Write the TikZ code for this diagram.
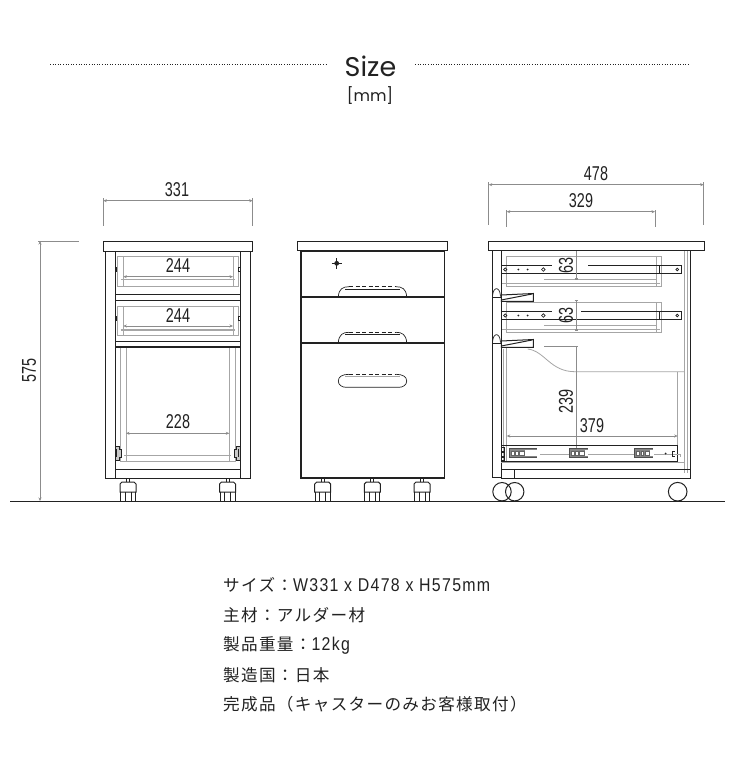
\documentclass[tikz,border=0pt]{standalone}
\usepackage{fontspec}
\usetikzlibrary{arrows.meta}
\setmainfont{Liberation Sans}
\newfontfamily\numfont[FakeStretch=0.72]{Liberation Sans}
\newfontfamily\latfont[FakeStretch=0.86,LetterSpace=7]{Liberation Sans}
\newfontfamily\cjkfont[LetterSpace=8]{Noto Sans CJK JP}
\newfontfamily\titlefont{Poppins}
\definecolor{ink}{HTML}{222222}
\definecolor{gr}{HTML}{A6A6A6}
\definecolor{dimc}{HTML}{8C8C8C}
\tikzset{
  x=1pt,y=-1pt,
  blk/.style={draw=ink,line width=1pt},
  thick blk/.style={draw=ink,line width=1.6pt},
  fine/.style={draw=ink,line width=0.7pt},
  grl/.style={draw=gr,line width=0.8pt},
  grthick/.style={draw=gr,line width=1.5pt},
  dimline/.style={draw=dimc,line width=0.8pt,{Stealth[length=3.5pt,width=3pt]}-{Stealth[length=3.5pt,width=3pt]}},
  extline/.style={draw=dimc,line width=0.8pt},
  num/.style={font=\numfont\fontsize{20}{20}\selectfont,text=ink,inner sep=0pt},
  spec/.style={anchor=base west,inner sep=0pt,text=ink},
  dots/.style={draw=ink,line width=0.9pt,dash pattern=on 0.9pt off 1.7pt},
}
\newcommand{\caster}[1]{%
  \draw[fine] (#1-1.5,478) -- (#1-1.5,482) (#1+1.5,478) -- (#1+1.5,482);
  \draw[blk,fill=white] (#1-8,484) -- (#1-6,482) -- (#1+6,482) -- (#1+8,484) -- (#1+8,492) -- (#1-8,492) -- cycle;
  \draw[blk] (#1-7.5,492) -- (#1-7.5,501) (#1-3,492) -- (#1-3,501) (#1+3,492) -- (#1+3,501) (#1+7.5,492) -- (#1+7.5,501);
}
\newcommand{\drawerhandle}[2]{% top y, bottom y
  \draw[fine] (338.3,#2) .. controls (339,#1+2) and (343,#1) .. (349,#1);
  \draw[fine] (406.7,#2) .. controls (406,#1+2) and (402,#1) .. (396,#1);
  \draw[fine,dash pattern=on 4pt off 2.5pt] (349,#1) -- (396,#1);
  \draw[fine] (345,#1+2.5) -- (400,#1+2.5);
}
\newcommand{\siderail}[5]{% y offset down, top line break start, break end, dim top, dim bottom
  \begin{scope}[yshift=-#1pt]
  \draw[grl] (506.7,256.3) rectangle (661.3,286.3);
  \draw[grl] (656,256.3) -- (656,286.3) (501.5,283) -- (660,283) (544,279) -- (656,279);
  \draw[blk] (501.7,265.3) -- (#2,265.3) (#3,265.3) -- (659,265.3);
  \draw[thick blk] (501.7,273.3) -- (659,273.3);
  \draw[fine] (659,265.3) -- (681.7,265.3) -- (681.7,273.3) -- (659,273.3) -- cycle;
  \draw[fine] (505.3,269.5) circle (1.6) (543.3,269.5) circle (1.8) (677.3,269.5) circle (1.4);
  \fill[ink] (518.3,269.5) circle (1) (527.7,269.5) circle (1);
  \draw[fine] (501.7,265.3) -- (501.7,273.3);
  \draw[extline] (576,#4) -- (576,#5);
  \draw[extline,line width=1.2pt] (574.5,#4) -- (577.5,#4) (574.5,#5) -- (577.5,#5);
  \end{scope}
}
\newcommand{\bracket}[1]{%
  \begin{scope}[yshift=-#1pt]
  \draw[blk,fill=white] (501.3,295) -- (533.3,293.5) -- (533.3,301.3) -- (501.3,301.3) -- cycle;
  \draw[blk] (501.3,300) -- (532,294);
  \draw[fine] (492.5,296.5) .. controls (493,286) and (500,286) .. (500.5,296.5);
  \draw[thick blk] (492,297.5) -- (501.3,297.5);
  \end{scope}
}
\newcommand{\slidepart}[2]{%
  \fill[gr!80!black] (#1,448.8) rectangle (#2,457.7);
  \fill[white] (#1+16,450.3) rectangle (#2+0.5,456.2);
  \draw[fine,draw=ink!80] (#1,448.8) -- (#2,448.8) (#1,457.7) -- (#2,457.7) (#1,448.8) -- (#1,457.7);
  \draw[fine,draw=ink!70,line width=0.5pt,fill=white] (#1+2,451.5) rectangle (#1+5,455);
  \draw[fine,draw=ink!70,line width=0.5pt,fill=white] (#1+6.5,451.5) rectangle (#1+9,455);
  \draw[fine,draw=ink!70,line width=0.5pt,fill=white] (#1+10.5,451.5) rectangle (#1+15,455);
}
\begin{document}
\begin{tikzpicture}
\useasboundingbox[fill=white] (0,0) rectangle (740,774);

% title
\node[inner sep=0pt,font=\titlefont\fontsize{27}{27}\selectfont,text=ink] (title) at (370.5,66) {Size};
\node[inner sep=0pt,font=\titlefont\fontsize{16}{16}\selectfont,text=ink] (unit) at (370,96) {[mm]};
\draw[dots] (50,64) -- (328,64);
\draw[dots] (415,64) -- (689,64);

% ground
\draw[draw=ink,line width=1.1pt] (10,501.5) -- (725,501.5);

% height dimension
\draw[extline] (38,241) -- (79,241);
\draw[dimline] (40,241) -- (40,501);
\node[num,rotate=90] (h575) at (29,370) {575};

% ---------- left view ----------
\draw[extline] (103.3,198) -- (103.3,226) (252.7,198) -- (252.7,226);
\draw[dimline] (103.3,200.7) -- (252.7,200.7);
\node[num] (w331) at (177,190) {331};

\foreach \c in {128,227.5} {\caster{\c}}
\draw[grl] (117.3,256) rectangle (238.7,286.7);
\draw[grl] (123,256) -- (123,286.7) (233,256) -- (233,286.7);
\draw[grthick] (120.7,279.3) -- (235,279.3);
\draw[grl] (117.3,306) rectangle (238.7,335.7);
\draw[grl] (123,306) -- (123,335.7) (233,306) -- (233,335.7);
\draw[grthick] (120.7,330) -- (235,330);
\draw[grl] (120.7,347) rectangle (235.7,461.7);
\draw[grl] (126,347) -- (126,461.7) (229.3,347) -- (229.3,461.7);
\draw[grthick] (124.3,455.3) -- (231.3,455.3);

\draw[blk] (105.7,251) -- (105.7,478) -- (250,478) -- (250,251);
\draw[blk] (115,251) -- (115,478) (240.3,251) -- (240.3,478);
\draw[blk] (115,469.3) -- (240.3,469.3);
\draw[blk] (115,294.3) -- (240.3,294.3);
\draw[thick blk] (115,300.3) -- (240.3,300.3);
\draw[blk] (115,341) -- (240.3,341);
\draw[thick blk] (115,346.7) -- (240.3,346.7);
\draw[blk,fill=white] (103.3,241.7) rectangle (252.7,251);
\draw[fine] (115,267) -- (116.5,267) -- (116.5,271) -- (115,271) (240.3,267) -- (238.8,267) -- (238.8,271) -- (240.3,271);
\draw[fine] (115,316) -- (116.5,316) -- (116.5,320) -- (115,320) (240.3,316) -- (238.8,316) -- (238.8,320) -- (240.3,320);
\foreach \s/\x in {1/115,-1/240.3} {
  \draw[fine,fill=gr!60] (\x,446) -- (\x+\s*4,446) -- (\x+\s*4,449) -- (\x+\s*6,449) -- (\x+\s*6,457) -- (\x+\s*4,457) -- (\x+\s*4,460.5) -- (\x,460.5) -- cycle;
  \draw[fine] (\x+\s*1.5,449) -- (\x+\s*1.5,457);
}
\draw[dimline] (123.3,276.7) -- (233,276.7);
\node[num] (a244) at (178,266) {244};
\draw[dimline] (123.3,326) -- (233,326);
\node[num] (b244) at (178,316) {244};
\draw[dimline] (126,433.3) -- (229.3,433.3);
\node[num] (c228) at (178,422) {228};

% ---------- front view ----------
\foreach \c in {322.7,372.3,422} {\caster{\c}}
\draw[thick blk,fill=white] (300.7,250.7) rectangle (444.3,477.7);
\draw[blk,fill=white] (297.7,241.7) rectangle (447.7,250.7);
\draw[thick blk,line width=1.9pt] (300.7,297) -- (444.3,297) (300.7,343) -- (444.3,343);
\drawerhandle{286.7}{296.5}
\drawerhandle{332.3}{342.5}
% lower handle
\draw[fine] (349,374.3) .. controls (342,374.3) and (338.3,377) .. (338.3,381)
  .. controls (338.3,385) and (342,387.3) .. (346,387.3) -- (399,387.3)
  .. controls (403,387.3) and (406.7,385) .. (406.7,381)
  .. controls (406.7,377) and (403,374.3) .. (396,374.3);
\draw[fine,dash pattern=on 4pt off 2.5pt] (349,374.3) -- (396,374.3);
\draw[grl,line width=0.5pt] (345,376.5) -- (400,376.5);
% lock
\fill[ink] (336.7,263.3) circle (2.4);
\draw[blk] (331.5,263.3) -- (341.9,263.3) (336.7,258.2) -- (336.7,268.5);

% ---------- side view ----------
\draw[extline] (488.7,182) -- (488.7,225) (703.7,182) -- (703.7,225);
\draw[dimline] (488.7,184.7) -- (703.7,184.7);
\node[num] (d478) at (596,174) {478};
\draw[extline] (506.7,210) -- (506.7,227) (655,210) -- (655,227);
\draw[dimline] (506.7,211.7) -- (655,211.7);
\node[num] (e329) at (581,201) {329};

% interior gray
\draw[grl,line width=1.1pt] (684.7,251) -- (684.7,473);
\draw[grl] (687,251) -- (687,473);
\draw[grl] (506.7,347) -- (506.7,462);
\draw[grl] (527.7,349) .. controls (545,351) and (550,371.7) .. (575,371.7) -- (684,371.7);
\draw[grl] (677.7,371.7) -- (677.7,462);
\draw[grl] (503,349) -- (503,462);

\siderail{0}{552}{588}{250.7}{279}
\siderail{46}{552}{581}{254.7}{284}
\draw[extline] (544,346.7) -- (576,346.7);
\draw[extline] (576,346.7) -- (576,455);
\draw[extline,line width=1.2pt] (574.5,346.7) -- (577.5,346.7);

% side frame
\draw[blk] (492,251) -- (492,477.5) -- (501.3,477.5) (501.3,251) -- (501.3,478) -- (690.3,478) -- (690.3,251);
\draw[blk] (501.3,469.3) -- (690.3,469.3);
\draw[blk] (514.7,469.3) -- (514.7,478);
\bracket{0}
\bracket{46}
\draw[blk,fill=white] (488.3,241.7) rectangle (704,250.7);

% bottom slide
\draw[blk] (501.3,445.3) -- (677.7,445.3) -- (677.7,461) -- (501.3,461);
\draw[grl] (540,454.5) -- (680,454.5) -- (680,457);
\draw[grl] (501.3,462) -- (684,462);
\slidepart{509}{536.7}
\slidepart{569}{587.7}
\slidepart{634.3}{653.3}
\fill[ink] (665.5,453.5) circle (1);
\draw[fine] (672,456.5) -- (672,451) -- (675,451) (672,456.5) -- (675,456.5);
\draw[fine] (501.5,447) rectangle (504.5,451) (501.5,452) rectangle (504.5,456) (501.5,457) rectangle (504.5,460);

\draw[dimline] (506.7,436) -- (677.7,436);
\node[num] (f379) at (592,426) {379};
\node[num,rotate=90] (g239) at (566,401) {239};
\node[num,rotate=90] (h63) at (566,265.5) {63};
\node[num,rotate=90] (i63) at (566,315.5) {63};

\draw[blk] (502,491.7) circle (9.2);
\draw[blk] (514.7,491.7) circle (9.2);
\draw[blk] (677.7,491.7) circle (9.3);

% specifications
\node[spec] (s1) at (223,591.5) {\fontsize{16.6}{16}\selectfont\cjkfont サイズ：\fontsize{18.5}{16}\selectfont\latfont W331 x D478 x H575mm};
\node[spec] (s2) at (223,621.5) {\fontsize{16.6}{16}\selectfont\cjkfont 主材：アルダー材};
\node[spec] (s3) at (223,650.5) {\fontsize{16.6}{16}\selectfont\cjkfont 製品重量：\fontsize{18.5}{16}\selectfont\latfont 12kg};
\node[spec] (s4) at (223,681.5) {\fontsize{16.6}{16}\selectfont\cjkfont 製造国：日本};
\node[spec] (s5) at (223,710.5) {\fontsize{16.6}{16}\selectfont\cjkfont 完成品（キャスターのみお客様取付）};
\end{tikzpicture}
\end{document}
